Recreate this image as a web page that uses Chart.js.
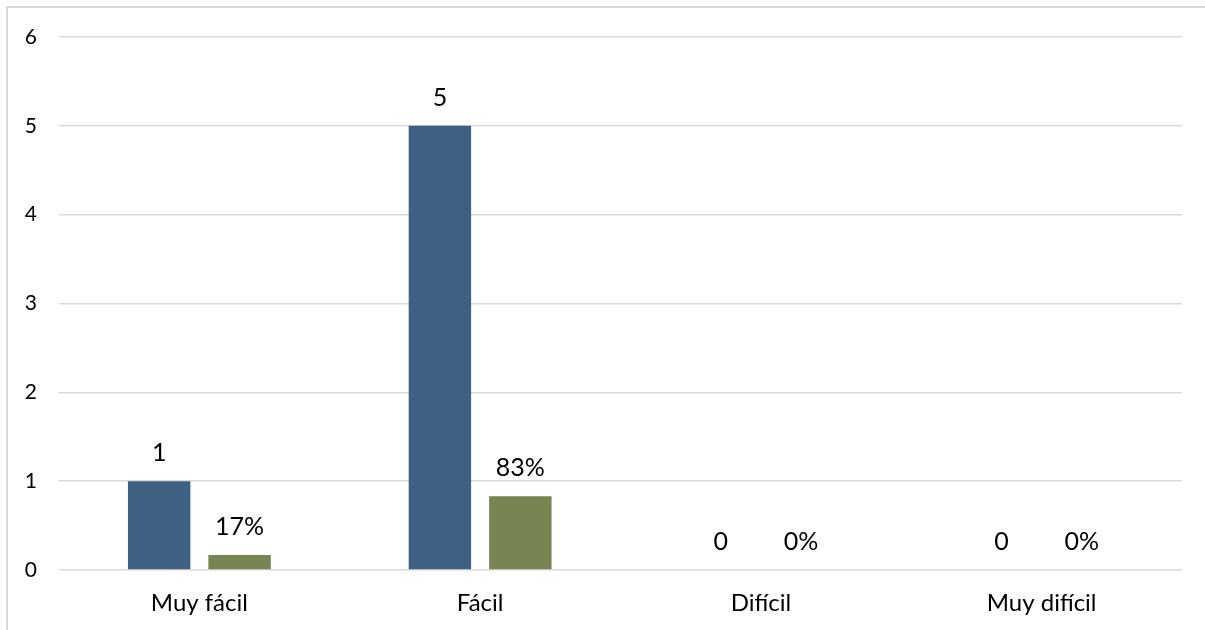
<!DOCTYPE html>
<html>
<head>
<meta charset="utf-8">
<script src="https://cdn.jsdelivr.net/npm/chart.js@4.4.1/dist/chart.umd.min.js"></script>
<style>
  html, body { margin: 0; padding: 0; background: #fff; }
  #wrap { position: relative; width: 1205px; height: 630px; overflow: hidden; }
  #frame { position: absolute; left: 6px; top: 6px; width: 1400px; height: 800px;
           border-left: 2px solid #d9d9d9; border-top: 2px solid #d9d9d9; }
  canvas { position: absolute; left: 0; top: 0; }
</style>
</head>
<body>
<div id="wrap">
  <div id="frame"></div>
  <canvas id="c" width="1205" height="630"></canvas>
</div>
<script>
// Survey answers: how easy it was
const categories = ['Muy fácil', 'Fácil', 'Difícil', 'Muy difícil'];
const counts = [1, 5, 0, 0];
const shares = [0.17, 0.83, 0, 0];
const shareLabels = ['17%', '83%', '0%', '0%'];
const countLabels = ['1', '5', '0', '0'];
const yTicks = [0, 1, 2, 3, 4, 5, 6];

const FONT = 'Lato, "Open Sans", sans-serif';

// Draws each bar's label a fixed distance above its top edge
const valueLabels = {
  id: 'valueLabels',
  afterDatasetsDraw(chart) {
    const ctx = chart.ctx;
    ctx.save();
    ctx.font = '25px ' + FONT;
    ctx.fillStyle = '#000';
    ctx.textAlign = 'center';
    ctx.textBaseline = 'middle';
    chart.data.datasets.forEach((ds, di) => {
      const meta = chart.getDatasetMeta(di);
      meta.data.forEach((bar, i) => {
        ctx.fillText(ds.valueText[i], bar.x, bar.y - 28);
      });
    });
    ctx.restore();
  }
};

new Chart(document.getElementById('c'), {
  type: 'bar',
  data: {
    labels: categories,
    datasets: [
      { label: 'Cantidad', data: counts, valueText: countLabels,
        backgroundColor: '#3d6083', borderWidth: 0 },
      { label: 'Porcentaje', data: shares, valueText: shareLabels,
        backgroundColor: '#768552', borderWidth: 0 }
    ]
  },
  options: {
    responsive: false,
    animation: false,
    events: [],
    layout: { padding: { top: 37, right: 23, bottom: 0, left: 0 } },
    datasets: { bar: { categoryPercentage: 0.573, barPercentage: 0.776 } },
    plugins: { legend: { display: false }, tooltip: { enabled: false } },
    scales: {
      x: {
        grid: { display: false, drawTicks: false },
        border: { display: false },
        ticks: { color: '#000', font: { family: FONT, size: 24 }, padding: 19 },
        afterFit(s) { s.height = 60; }
      },
      y: {
        min: 0, max: 6,
        afterBuildTicks(s) { s.ticks = yTicks.map(v => ({ value: v })); },
        grid: { color: '#d9d9d9', lineWidth: 1.5, drawTicks: false },
        border: { display: false },
        ticks: { color: '#000', font: { family: FONT, size: 21 }, padding: 22 },
        afterFit(s) { s.width = 59; }
      }
    }
  },
  plugins: [valueLabels]
});
</script>
</body>
</html>
